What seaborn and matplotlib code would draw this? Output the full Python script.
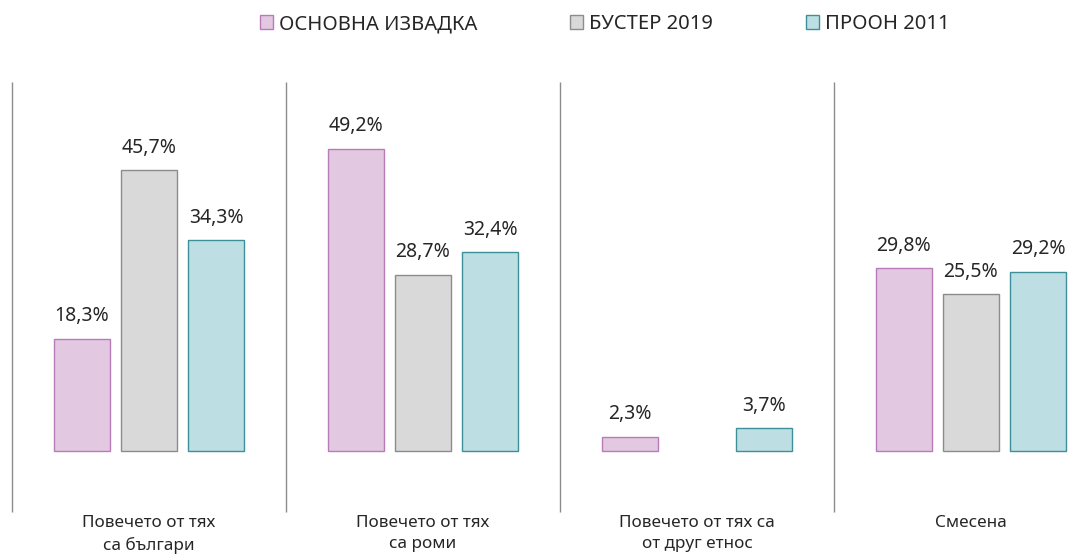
import numpy as np
import pandas as pd
import seaborn as sns
import matplotlib.pyplot as plt

# data
categories = ["Повечето от тях\nса българи", "Повечето от тях\nса роми",
              "Повечето от тях са\nот друг етнос", "Смесена"]
series = ["ОСНОВНА ИЗВАДКА", "БУСТЕР 2019", "ПРООН 2011"]
osnovna = [18.3, 49.2, 2.3, 29.8]
buster = [45.7, 28.7, np.nan, 25.5]
proon = [34.3, 32.4, 3.7, 29.2]

fills = ["#E2C8E0", "#D9D9D9", "#BDDFE3"]
edges = ["#B87BB8", "#8C8C8C", "#3E9098"]

rows = []
for s, vals in zip(series, [osnovna, buster, proon]):
    for c, v in zip(categories, vals):
        rows.append({"cat": c, "series": s, "value": v})
df = pd.DataFrame(rows)

sns.set_style("white")
plt.rcParams['font.family'] = ['Noto Sans', 'DejaVu Sans']

fig = plt.figure(figsize=(10.92, 5.54), dpi=100)
ax = fig.add_axes([0, 0, 1, 1])

sns.barplot(data=df.dropna(), x="cat", y="value", hue="series", order=categories,
            hue_order=series, palette=fills, saturation=1, width=0.734, gap=0.164,
            linewidth=1, legend=False, ax=ax)

# edge colours per series + value labels
for cont, ec in zip(ax.containers, edges):
    for p in cont:
        p.set_edgecolor(ec)
    labels = [f"{p.get_height():.1f}%".replace(".", ",") for p in cont]
    ax.bar_label(cont, labels=labels, padding=9, fontsize=14, color="#262626")

ax.set_xlim(-0.544, 3.442)
ax.set_ylim(-16.78, 73.45)
ax.axis("off")

# separators between groups
for i in range(len(categories)):
    ax.vlines(i - 0.5, -9.9, 60.1, color="#8C8C8C", linewidth=1)

for i, c in enumerate(categories):
    ax.text(i, -10.4, c, ha="center", va="top", fontsize=12.3, color="#262626",
            linespacing=1.45)

handles = [plt.Rectangle((0, 0), 1, 1, facecolor=f, edgecolor=e, linewidth=1)
           for f, e in zip(fills, edges)]
fig.legend(handles, series, loc="upper center", bbox_to_anchor=(0.554, 1.0), ncol=3,
           frameon=False, fontsize=14.5, handlelength=0.65, handleheight=0.65,
           handletextpad=0.3, columnspacing=4.6, labelcolor="#262626",
           borderaxespad=0.3)

fig.savefig("out.png", dpi=100)
